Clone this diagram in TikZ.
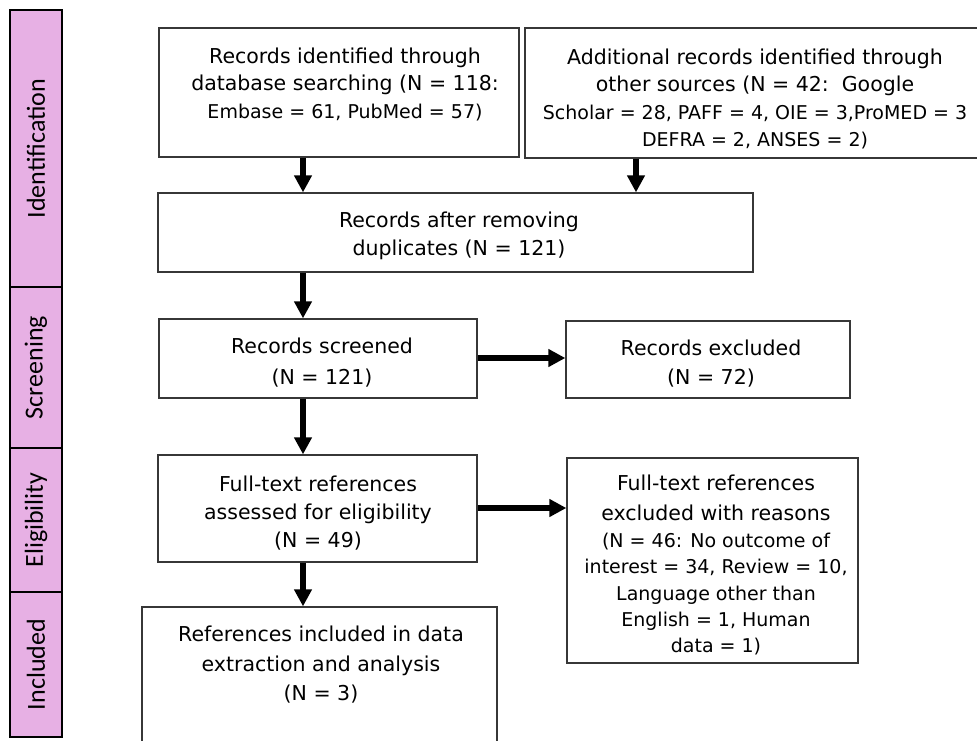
\documentclass[tikz,border=0pt]{standalone}
\usepackage{fontspec}
\setmainfont{DejaVu Sans}
\newfontfamily\sidefont{Carlito}
\usetikzlibrary{arrows.meta}
\definecolor{sidepink}{RGB}{231,176,228}
\definecolor{boxline}{RGB}{55,55,55}
\newcommand\smallfs{\fontsize{19}{27.5}\selectfont}
\begin{document}
\begin{tikzpicture}[x=1pt,y=-1pt,
  box/.style={draw=boxline, line width=1.3pt, fill=white, inner sep=0pt},
  txt/.style={align=center, inner sep=0pt, font=\fontsize{20.5}{27.5}\selectfont},
  flow/.style={line width=5.5pt, -{Triangle[width=17pt,length=17pt]}, black},
  side/.style={draw=black, line width=1.3pt, fill=sidepink, inner sep=0pt, minimum width=52pt},
  sidelabel/.style={rotate=90, font=\sidefont\fontsize{26}{30}\selectfont, inner sep=0pt}]
\useasboundingbox (0,0) rectangle (977,740);

% sidebar
\node[side, minimum height=277pt] (s1) at (36,148.5) {};
\node[side, minimum height=161pt] (s2) at (36,367.5) {};
\node[side, minimum height=144pt] (s3) at (36,520) {};
\node[side, minimum height=145pt] (s4) at (36,664.5) {};
\node[sidelabel] (l1) at (s1.center) {Identification};
\node[sidelabel] (l2) at (s2.center) {Screening};
\node[sidelabel] (l3) at (s3.center) {Eligibility};
\node[sidelabel] (l4) at (s4.center) {Included};

% boxes
\node[box, minimum width=360pt, minimum height=129pt] (b1) at (339,92.5) {};
\node[box, minimum width=453pt, minimum height=130pt] (b2) at (751.5,93) {};
\node[box, minimum width=595pt, minimum height=79pt] (b3) at (455.5,232.5) {};
\node[box, minimum width=318pt, minimum height=79pt] (sc) at (318,358.5) {};
\node[box, minimum width=284pt, minimum height=77pt] (ex) at (708,359.5) {};
\node[box, minimum width=319pt, minimum height=107pt] (ft) at (317.5,508.5) {};
\node[box, minimum width=291pt, minimum height=205pt] (rs) at (712.5,560.5) {};
\node[box, minimum width=355pt, minimum height=153pt] (in) at (319.5,683.5) {};

% texts
\node[txt] (t1) at (345,84) {Records identified through\\database searching (N = 118:\\{\smallfs Embase = 61, PubMed = 57)}};
\node[txt] (t2) at (755,99) {Additional records identified through\\other sources (N = 42:\ \ Google\\{\smallfs Scholar = 28, PAFF = 4, OIE = 3,ProMED = 3}\\{\smallfs DEFRA = 2, ANSES = 2)}};
\node[txt] (t3) at (459,236) {Records after removing\\duplicates (N = 121)};
\node[txt, font=\fontsize{20.5}{31}\selectfont] (t4) at (322,363) {Records screened\\(N = 121)};
\node[txt, font=\fontsize{20.5}{29}\selectfont] (t5) at (711,364) {Records excluded\\(N = 72)};
\node[txt, font=\fontsize{20.5}{28}\selectfont] (t6) at (318,513) {Full-text references\\assessed for eligibility\\(N = 49)};
\node[txt, font=\fontsize{20.5}{26.2}\selectfont] (t7) at (716,565) {Full-text references\\[3.8pt]excluded with reasons\\[0.8pt]{\smallfs (N = 46: No outcome of}\\{\smallfs interest = 34, Review = 10,}\\{\smallfs Language other than}\\{\smallfs English = 1, Human}\\{\smallfs data = 1)}};
\node[txt, font=\fontsize{20.5}{29.5}\selectfont] (t8) at (321,665) {References included in data\\extraction and analysis\\(N = 3)};

% connectors
\coordinate (ax) at (303,0);
\coordinate (bx) at (636,0);
\coordinate (hy1) at (0,358);
\coordinate (hy2) at (0,508);
\draw[flow] (b1.south -| ax) -- (b3.north -| ax);
\draw[flow] (b2.south -| bx) -- (b3.north -| bx);
\draw[flow] (b3.south -| ax) -- (sc.north -| ax);
\draw[flow] (sc.south -| ax) -- (ft.north -| ax);
\draw[flow] (ft.south -| ax) -- (in.north -| ax);
\draw[flow] (sc.east |- hy1) -- (ex.west |- hy1);
\draw[flow] (ft.east |- hy2) -- (rs.west |- hy2);
\end{tikzpicture}
\end{document}
